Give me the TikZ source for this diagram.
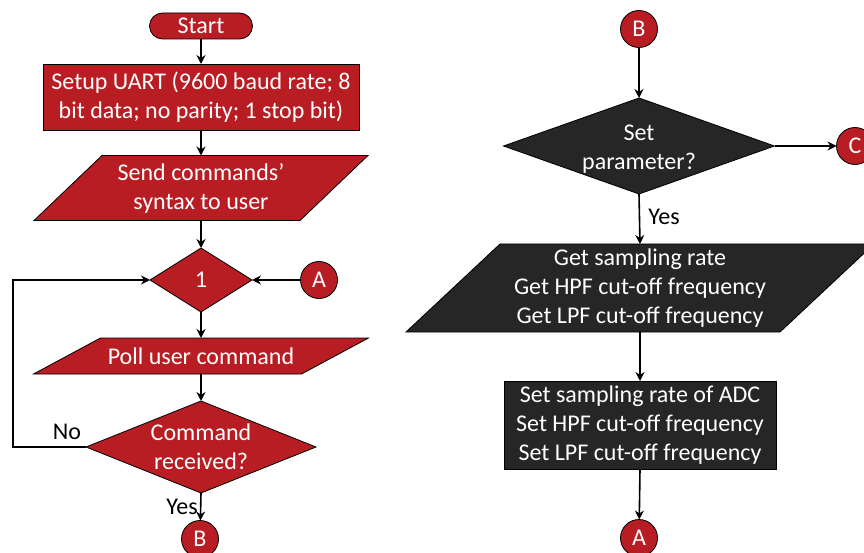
\documentclass[tikz,border=0pt]{standalone}
\usepackage{fontspec}
\setmainfont{Carlito}
\usetikzlibrary{arrows.meta,shapes.geometric,backgrounds}
\definecolor{boxred}{HTML}{B81D24}
\definecolor{boxdark}{HTML}{262626}
\tikzset{
  base/.style={font=\fontsize{24}{29}\selectfont, align=center, inner sep=0pt, outer sep=0pt},
  shapeline/.style={draw=black, line width=0.8pt},
  startbox/.style={base, shapeline, text=white, fill=boxred, rounded corners=13pt,
    minimum width=103pt, minimum height=26pt},
  procbox/.style={base, shapeline, text=white},
  iobox/.style={base, text=white},
  decision/.style={diamond, base, shapeline, text=white},
  conn/.style={circle, base, shapeline, text=white, fill=boxred, minimum size=37pt},
  flow/.style={line width=1.6pt, -{Stealth[length=9pt,width=9pt]}},
  lbl/.style={base, text=black}
}
\begin{document}
\begin{tikzpicture}[x=1pt,y=-1pt]
  \useasboundingbox (0,0) rectangle (864,553);

  % left column
  \node[startbox] (start) at (201,26) {Start};
  \node[procbox, fill=boxred, minimum width=316pt, minimum height=66pt] (setup) at (201,97)
    {Setup UART (9600 baud rate; 8\\bit data; no parity; 1 stop bit)};
  \node[iobox, minimum width=266pt, minimum height=65pt] (send) at (201,188)
    {Send commands'\\syntax to user};
  \node[decision, fill=boxred, minimum width=102pt, minimum height=64pt,
    label={[base, text=white]center:1}] (one) at (201,280) {};
  \node[conn] (conA) at (319,280) {A};
  \node[iobox, minimum width=268pt, minimum height=36pt] (poll) at (201,356)
    {Poll user command};
  \node[decision, fill=boxred, minimum width=230pt, minimum height=92pt,
    label={[base, text=white]center:Command\\received?}] (recv) at (201,447) {};
  \node[conn] (conBout) at (200,539) {B};
  \coordinate (loop) at (13,447);

  % right column
  \node[conn] (conBin) at (639,29) {B};
  \node[decision, fill=boxdark, minimum width=271pt, minimum height=96pt,
    label={[base, text=white, yshift=-3pt]center:Set\\parameter?}] (setp) at (639,146) {};
  \node[conn] (conC) at (855,146) {C};
  \node[iobox, minimum width=374pt, minimum height=88pt] (getp) at (640,288)
    {Get sampling rate\\Get HPF cut-off frequency\\Get LPF cut-off frequency};
  \node[procbox, fill=boxdark, minimum width=272pt, minimum height=88pt] (setbox) at (640,425)
    {Set sampling rate of ADC\\Set HPF cut-off frequency\\Set LPF cut-off frequency};
  \node[conn] (conAout) at (639,538) {A};

  % parallelograms behind the text
  \begin{scope}[on background layer]
    \foreach \n/\s/\c in {send/34/boxred, poll/33.5/boxred, getp/47/boxdark}
      \draw[shapeline, fill=\c] ([xshift=\s pt]\n.north west) -- ([xshift=\s pt]\n.north east)
        -- ([xshift=-\s pt]\n.south east) -- ([xshift=-\s pt]\n.south west) -- cycle;
  \end{scope}

  \draw[flow] (start) -- (setup);
  \draw[flow] (setup) -- (send.north);
  \draw[flow] (send.south) -- (one.north);
  \draw[flow] (conA) -- (one.east);
  \draw[flow] (one.south) -- (poll.north);
  \draw[flow] (poll.south) -- (recv.north);
  \draw[flow] (recv.south) -- node[lbl, left=3pt]{Yes} (conBout);
  \draw[flow] (recv.west) -- node[lbl, pos=0.26, above=7pt]{No} (loop) |- (one.west);

  \draw[flow] (conBin) -- (setp.north);
  \draw[flow] (setp.east) -- (conC);
  \draw[flow] (setp.south) -- node[lbl, pos=0.45, right=9pt]{Yes} (getp.north);
  \draw[flow] (getp.south) -- (setbox.north);
  \draw[flow] (setbox.south) -- (conAout);
\end{tikzpicture}
\end{document}
